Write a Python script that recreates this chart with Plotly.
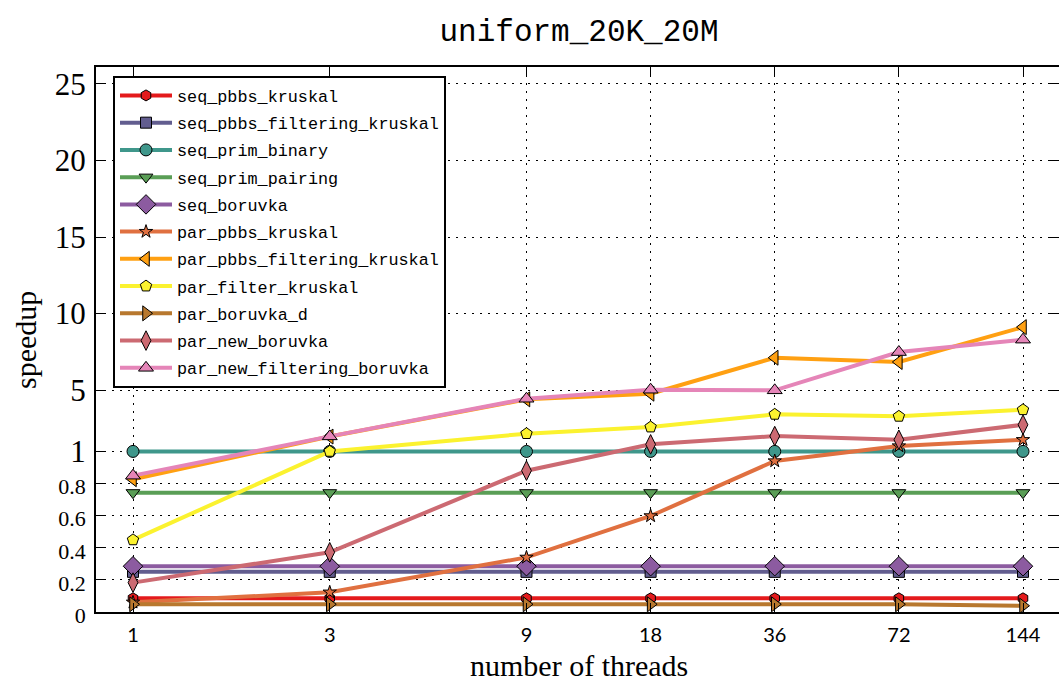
import plotly.graph_objects as go

# Thread counts (x axis, log scale)
threads = [1, 3, 9, 18, 36, 72, 144]

# Speedup per algorithm
seq_pbbs_kruskal = [0.085, 0.085, 0.085, 0.085, 0.085, 0.085, 0.085]
seq_pbbs_filtering_kruskal = [0.25, 0.25, 0.25, 0.25, 0.25, 0.25, 0.25]
seq_prim_binary = [1.0, 1.0, 1.0, 1.0, 1.0, 1.0, 1.0]
seq_prim_pairing = [0.743, 0.743, 0.743, 0.743, 0.743, 0.743, 0.743]
seq_boruvka = [0.285, 0.285, 0.285, 0.285, 0.285, 0.285, 0.285]
par_pbbs_kruskal = [0.06, 0.123, 0.34, 0.598, 0.94, 1.35, 1.76]
par_pbbs_filtering_kruskal = [0.827, 1.97, 4.4, 4.77, 7.12, 6.84, 9.12]
par_filter_kruskal = [0.449, 1.0, 2.16, 2.59, 3.42, 3.29, 3.72]
par_boruvka_d = [0.048, 0.048, 0.048, 0.048, 0.048, 0.048, 0.039]
par_new_boruvka = [0.183, 0.372, 0.88, 1.46, 2.0, 1.76, 2.74]
par_new_filtering_boruvka = [0.849, 1.98, 4.44, 5.03, 4.99, 7.49, 8.30]

# y tick positions / labels
y_tickvals = [0, 0.2, 0.4, 0.6, 0.8, 1, 5, 10, 15, 20, 25]
y_ticklabels = ["0", "0.2", "0.4", "0.6", "0.8", "1", "5", "10", "15", "20", "25"]
x_ticklabels = ["1", "3", "9", "18", "36", "72", "144"]

# Piecewise y scale: linear on [0, 1], compressed linear above 1
K = 15.3 / 160.5


def yscale(v):
    return v if v <= 1 else 1 + (v - 1) * K


series = [
    ("seq_pbbs_kruskal", seq_pbbs_kruskal, "#e41a1c", "hexagon", 11),
    ("seq_pbbs_filtering_kruskal", seq_pbbs_filtering_kruskal, "#625d8f", "square", 11),
    ("seq_prim_binary", seq_prim_binary, "#3f978b", "circle", 12),
    ("seq_prim_pairing", seq_prim_pairing, "#5a9e56", "triangle-down", 12),
    ("seq_boruvka", seq_boruvka, "#8c5ba0", "diamond", 15),
    ("par_pbbs_kruskal", par_pbbs_kruskal, "#e07040", "star", 10),
    ("par_pbbs_filtering_kruskal", par_pbbs_filtering_kruskal, "#ffa012", "triangle-left", 13),
    ("par_filter_kruskal", par_filter_kruskal, "#fbf22f", "pentagon", 12),
    ("par_boruvka_d", par_boruvka_d, "#b8782e", "triangle-right", 13),
    ("par_new_boruvka", par_new_boruvka, "#cc6a72", "diamond-tall", 14),
    ("par_new_filtering_boruvka", par_new_filtering_boruvka, "#e585b8", "triangle-up", 13),
]

fig = go.Figure()
for name, vals, color, symbol, size in series:
    fig.add_trace(go.Scatter(
        x=threads,
        y=[yscale(v) for v in vals],
        customdata=vals,
        hovertemplate="%{x} threads: %{customdata}<extra>" + name + "</extra>",
        name=name,
        legendgroup=name,
        mode="lines+markers",
        line=dict(color=color, width=4),
        marker=dict(symbol=symbol, size=size, color=color,
                    line=dict(color="black", width=1)),
    ))

L, T, B = 96, 67, 72
W, H = 1059, 684
px_per_decade = (1023 - 133) / 2.15836
x_lo = -(133 - L) / px_per_decade
x_hi = 2.15836 + (W - 1023) / px_per_decade
y_hi = yscale(26.11)

serif = "Liberation Serif"
y_ticktext = [
    t if t in ("1", "5", "10", "15", "20", "25") else
    '<span style="font-size:22px">' + t + "</span>"
    for t in y_ticklabels
]

fig.update_layout(
    width=W, height=H,
    margin=dict(l=L, r=0, t=T, b=B),
    paper_bgcolor="white", plot_bgcolor="white",
    showlegend=True,
    title=dict(text="uniform_20K_20M", x=(L + 1062) / 2 / W, xanchor="center",
               y=1 - 30 / H, yanchor="middle",
               font=dict(family="Liberation Mono", size=31, color="black")),
    legend=dict(
        x=(113 - L) / (W - L), y=(H - B - 76) / (H - T - B),
        xanchor="left", yanchor="top",
        bgcolor="white", bordercolor="black", borderwidth=2,
        font=dict(family="Liberation Mono", size=16.8, color="black"),
        tracegroupgap=2.4, itemwidth=52,
    ),
    xaxis=dict(
        type="log", range=[x_lo, x_hi],
        tickvals=threads, ticktext=x_ticklabels,
        tickfont=dict(family="Lato", size=20, color="black"),
        ticks="inside", ticklen=9, tickwidth=1, tickcolor="black",
        ticklabelstandoff=4,
        showline=True, linewidth=2, linecolor="black", mirror="ticks",
        showgrid=True, gridcolor="black", gridwidth=1, griddash="2px,6px",
        zeroline=False,
    ),
    yaxis=dict(
        range=[0, y_hi],
        tickvals=[yscale(v) for v in y_tickvals], ticktext=y_ticktext,
        tickfont=dict(family=serif, size=31, color="black"),
        ticks="inside", ticklen=9, tickwidth=1, tickcolor="black",
        ticklabelstandoff=2,
        showline=True, linewidth=2, linecolor="black",
        showgrid=True, gridcolor="black", gridwidth=1, griddash="2px,6px",
        zeroline=False,
    ),
    yaxis2=dict(
        overlaying="y", side="right", range=[0, y_hi],
        tickvals=[yscale(v) for v in y_tickvals],
        ticks="inside", ticklen=9, tickwidth=1, tickcolor="black",
        showticklabels=False, showgrid=False, showline=False, zeroline=False,
    ),
    annotations=[
        dict(text="speedup", xref="paper", yref="paper",
             x=(25 - L) / (W - L), y=(H - B - 340) / (H - T - B),
             xanchor="center", yanchor="middle", textangle=-90, showarrow=False,
             font=dict(family=serif, size=30, color="black")),
        dict(text="number of threads", xref="paper", yref="paper",
             x=(579 - L) / (W - L), y=-(665 - (H - B)) / (H - T - B),
             xanchor="center", yanchor="middle", showarrow=False,
             font=dict(family=serif, size=30, color="black")),
    ],
)

# keep the right-hand tick axis alive with an invisible trace
fig.add_trace(go.Scatter(x=[threads[0]], y=[0], yaxis="y2", mode="markers",
                         marker=dict(opacity=0), showlegend=False, hoverinfo="skip"))

fig.write_html("out.html")
